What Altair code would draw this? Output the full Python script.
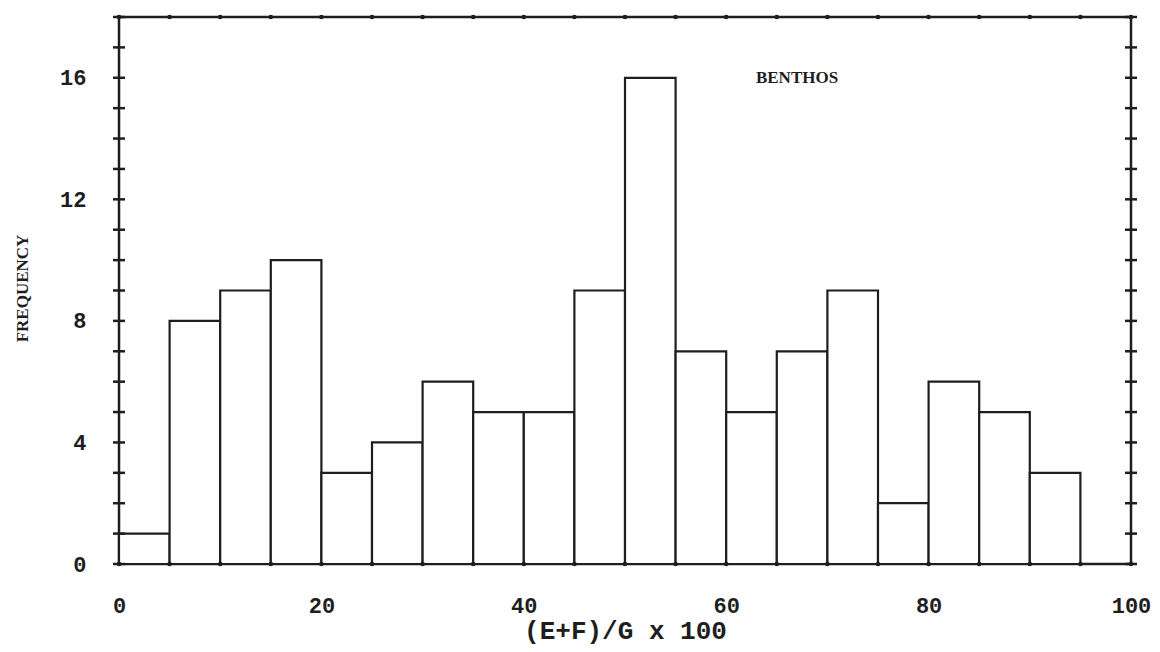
import altair as alt
import pandas as pd

# Histogram of (E+F)/G x 100 for benthos samples, 5-unit classes
bin_start = [0, 5, 10, 15, 20, 25, 30, 35, 40, 45, 50, 55, 60, 65, 70, 75, 80, 85, 90, 95]
frequency = [1, 8, 9, 10, 3, 4, 6, 5, 5, 9, 16, 7, 5, 7, 9, 2, 6, 5, 3, 0]
bin_width = 5

x_label_values = [0, 20, 40, 60, 80, 100]
y_label_values = [0, 4, 8, 12, 16]
x_tick_values = list(range(0, 101, 5))
y_tick_values = list(range(0, 19))

W, H = 1012, 547
INK = "#1e1e1e"
MONO = "Liberation Mono"
SERIF = "Liberation Serif"

bars = pd.DataFrame({
    "start": bin_start,
    "end": [b + bin_width for b in bin_start],
    "count": frequency,
})
yt = pd.DataFrame({"v": y_tick_values})
xt = pd.DataFrame({"v": x_tick_values})

xs = alt.Scale(domain=[0, 100], nice=False, zero=False)
ys = alt.Scale(domain=[0, 18], nice=False)

hist = alt.Chart(bars).mark_rect(
    fill="white", stroke=INK, strokeWidth=2.2
).encode(
    x=alt.X("start:Q", scale=xs, axis=alt.Axis(
        values=x_label_values, title="(E+F)/G x 100", domain=False, ticks=False,
        tickSize=0, labelPadding=31, labelFont=MONO, labelFontSize=22,
        labelFontWeight="bold", labelColor=INK, titleFont=MONO, titleFontSize=26,
        titleFontWeight="bold", titleColor=INK, titleBaseline="middle", titleY=66,
        grid=False, labelFlush=False,
    )),
    x2="end:Q",
    y=alt.Y("count:Q", scale=ys, axis=alt.Axis(
        values=y_label_values, title="FREQUENCY", domain=False, ticks=False,
        tickSize=0, labelPadding=33, labelFont=MONO, labelFontSize=22,
        labelFontWeight="bold", labelColor=INK, titleFont=SERIF, titleFontSize=17,
        titleFontWeight="bold", titleColor=INK, titleAngle=-90,
        titleBaseline="middle", titleAlign="center", titleX=-97, titleY=271,
        grid=False, labelFlush=False,
    )),
    y2=alt.Y2(datum=0),
)

left_ticks = alt.Chart(yt).mark_rule(color=INK, strokeWidth=2.5).encode(
    y=alt.Y("v:Q", scale=ys), x=alt.value(-6), x2=alt.value(6)
)
right_ticks = alt.Chart(yt).mark_rule(color=INK, strokeWidth=2.5).encode(
    y=alt.Y("v:Q", scale=ys), x=alt.value(W - 6), x2=alt.value(W + 6)
)
bottom_dots = alt.Chart(xt).mark_circle(color=INK, size=22, opacity=1).encode(
    x=alt.X("v:Q", scale=xs), y=alt.value(H)
)
top_dots = alt.Chart(xt).mark_circle(color=INK, size=22, opacity=1).encode(
    x=alt.X("v:Q", scale=xs), y=alt.value(0)
)

label = alt.Chart(pd.DataFrame({"x": [67], "y": [16], "t": ["BENTHOS"]})).mark_text(
    font=SERIF, fontSize=17, fontWeight="bold", color=INK, align="center",
    baseline="middle"
).encode(x=alt.X("x:Q", scale=xs), y=alt.Y("y:Q", scale=ys), text="t:N")

chart = alt.layer(hist, left_ticks, right_ticks, bottom_dots, top_dots, label).properties(
    width=W, height=H,
    autosize=alt.AutoSizeParams(type="none"),
    padding={"left": 119, "top": 17, "right": 29, "bottom": 88},
    background="white",
).configure_view(stroke=INK, strokeWidth=2.5)

chart.save("out.html", embed_options={"renderer": "svg", "actions": False})
